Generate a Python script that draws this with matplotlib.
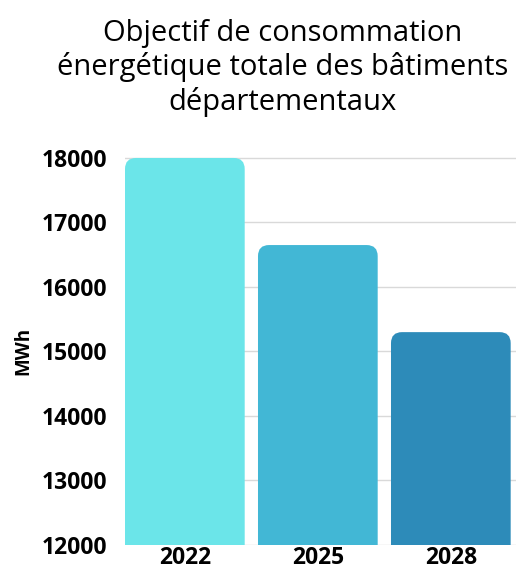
import matplotlib.pyplot as plt
from matplotlib.patches import FancyBboxPatch

plt.rcParams['font.family'] = ['Open Sans', 'DejaVu Sans']

years = ['2022', '2025', '2028']
values = [18000, 16650, 15300]
colors = ['#6BE5E9', '#42B7D5', '#2D8BB9']

fig = plt.figure(figsize=(5.16, 5.69), dpi=100)
ax = fig.add_axes([125/516, 1 - 545/569, 1 - 125/516, (545 - 157)/569])

ymin, ymax = 12000, 18000
ax.set_ylim(ymin, ymax + 15)
ax.set_xlim(-0.45, 2.49)

width = 0.9
# rounded top corners: px per data unit in x and y
px_x = 133.0
px_y = 64.5 / 1000
r_px = 11
for i, (v, c) in enumerate(zip(values, colors)):
    p = FancyBboxPatch((i - width/2, ymin - 1000), width, v - ymin + 1000,
                       boxstyle="round,pad=0,rounding_size=%f" % (r_px/px_x),
                       mutation_aspect=px_x/px_y,
                       facecolor=c, edgecolor='none', zorder=3)
    ax.add_patch(p)

ax.set_yticks(range(12000, 18001, 1000))
ax.yaxis.grid(True, color='#d9d9d9', linewidth=1, zorder=0)
ax.set_axisbelow(True)
ax.set_xticks(range(len(years)))
ax.set_xticklabels(years)
for s in ax.spines.values():
    s.set_visible(False)
ax.tick_params(axis='both', length=0, labelsize=16.5)
ax.tick_params(axis='y', pad=13)
ax.tick_params(axis='x', pad=1)
for lab in ax.get_xticklabels() + ax.get_yticklabels():
    lab.set_fontweight('bold')
ax.set_ylabel('MWh', fontsize=13.5, fontweight='bold', labelpad=6)

fig.text(283/516, 1 - 68/569,
         'Objectif de consommation\nénergétique totale des bâtiments\ndépartementaux',
         ha='center', va='center', fontsize=21, linespacing=1.2)

fig.savefig('out.png', dpi=100)
